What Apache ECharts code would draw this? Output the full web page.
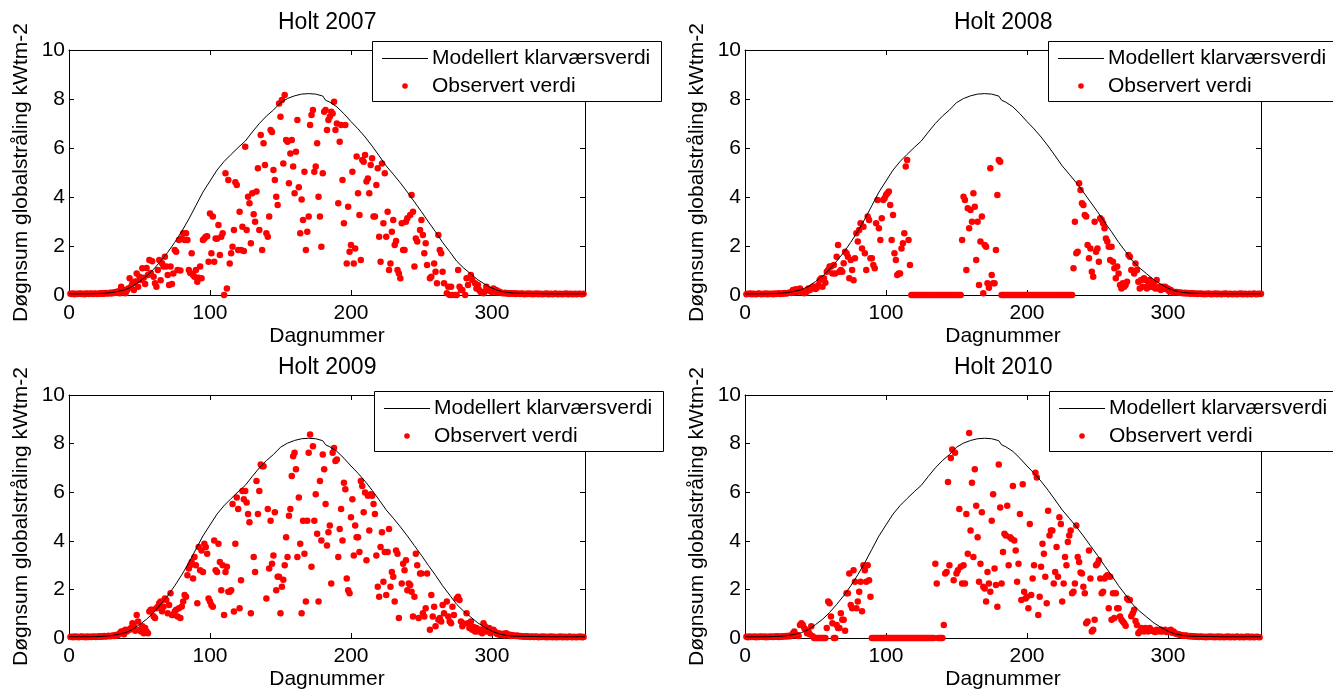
<!DOCTYPE html>
<html><head><meta charset="utf-8">
<script src="https://cdn.jsdelivr.net/npm/echarts@6/dist/echarts.min.js"></script>
<style>html,body{margin:0;padding:0;background:#fff}#c{width:1333px;height:691px}</style>
</head><body><div id="c"></div>
<script>
// ---------------- DATA ----------------
const titles = ['Holt 2007', 'Holt 2008', 'Holt 2009', 'Holt 2010'];
const legendLabels = ['Modellert klarværsverdi', 'Observert verdi'];
const xName = 'Dagnummer';
const yName = 'Døgnsum globalstråling kWtm-2';
const xTicks = [0, 100, 200, 300];
const yTicks = [0, 2, 4, 6, 8, 10];

// clear-sky model curve [day, value]
const modelCurve = [[0,0.05],[5,0.05],[10,0.05],[15,0.05],[20,0.06],[25,0.07],[30,0.1],[35,0.15],[40,0.22],[45,0.35],[50,0.55],[55,0.77],[60,1.05],[65,1.38],[70,1.74],[75,2.15],[80,2.6],[85,3.1],[90,3.65],[95,4.2],[100,4.65],[105,5.1],[110,5.45],[115,5.74],[120,6.02],[121,5.96],[125,6.28],[130,6.65],[135,7.0],[140,7.3],[141,7.26],[145,7.55],[150,7.85],[155,8.02],[160,8.13],[165,8.2],[170,8.22],[175,8.2],[180,8.12],[182,7.95],[185,7.87],[190,7.68],[195,7.4],[200,7.08],[205,6.78],[210,6.45],[215,6.08],[220,5.68],[225,5.27],[230,4.93],[235,4.58],[240,4.2],[245,3.8],[250,3.4],[255,2.98],[260,2.58],[265,2.15],[270,1.77],[275,1.38],[280,1.1],[285,0.86],[290,0.62],[295,0.44],[300,0.28],[305,0.17],[310,0.11],[315,0.08],[320,0.07],[330,0.06],[340,0.05],[350,0.05],[366,0.05]];

// ---- 2007 ----
const winterStart2007 = 1;
const winter2007 = [0.05,0.04,0.06,0.03,0.05,0.04,0.05,0.06,0.04,0.05,0.03,0.06,0.05,0.04,0.06,0.05,0.04,0.06,0.05,0.04,0.06,0.05,0.07,0.05,0.06,0.08,0.06,0.07,0.09,0.06,0.1,0.08,0.12,0.09,0.15,0.07];
const obs2007 = [[37,0.34],[38,0.12],[39,0.2],[40,0.07],[41,0.18],[42,0.27],[43,0.68],[44,0.34],[45,0.48],[46,0.2],[47,0.55],[48,0.88],[49,0.34],[50,0.75],[51,0.61],[52,1.09],[53,0.7],[54,0.45],[55,1.1],[56,0.82],[57,1.43],[58,0.9],[59,1.38],[60,0.75],[61,0.48],[62,0.34],[63,1.02],[64,1.43],[65,0.6],[66,1.3],[67,1.16],[68,1.56],[69,1.16],[70,0.82],[71,0.41],[72,1.16],[73,0.45],[74,0.88],[75,1.84],[76,1.77],[77,1.02],[78,2.24],[79,1.0],[80,2.31],[81,2.52],[82,2.24],[83,2.52],[84,2.24],[85,1.02],[86,0.9],[87,1.7],[88,0.82],[89,0.75],[90,1.02],[91,0.54],[92,0.7],[93,1.16],[94,0.68],[95,2.24],[96,2.31],[97,2.38],[98,2.4],[99,1.36],[100,3.33],[101,1.7],[102,3.2],[103,1.36],[104,2.31],[105,2.3],[106,2.86],[107,1.63],[108,2.38],[109,2.52],[110,0],[111,4.97],[112,0.27],[113,4.69],[114,1.29],[115,1.7],[116,1.97],[117,2.65],[118,4.6],[119,4.49],[120,1.84],[121,3.4],[122,1.84],[123,2.79],[124,1.8],[125,6.05],[126,2.65],[127,4.01],[128,3.74],[129,2.11],[130,4.15],[131,3.3],[132,2.99],[133,4.22],[134,5.17],[135,2.65],[136,6.53],[137,1.84],[138,6.19],[139,5.31],[140,2.52],[141,2.38],[142,3.2],[143,6.73],[144,6.65],[145,5.1],[146,4.69],[147,4.01],[148,3.67],[149,7.82],[150,7.28],[151,7.96],[152,5.37],[153,8.16],[154,6.33],[155,6.26],[156,4.56],[157,5.78],[158,6.33],[159,5.24],[160,4.15],[161,5.85],[162,7.14],[163,4.4],[164,2.52],[165,3.9],[166,3.06],[167,5.03],[168,1.84],[169,2.58],[170,3.2],[171,6.94],[172,7.35],[173,7.55],[174,5.03],[175,5.24],[176,6.19],[177,4.01],[178,3.2],[179,1.97],[180,4.97],[181,7.48],[182,7.55],[183,6.73],[184,7.14],[185,7.28],[186,7.48],[187,7.41],[188,7.89],[189,6.73],[190,7.0],[191,3.74],[192,6.26],[193,6.94],[194,4.69],[195,2.93],[196,6.94],[197,1.29],[198,3.6],[199,1.77],[200,2.04],[201,5.03],[202,1.29],[203,1.9],[204,5.65],[205,4.15],[206,3.27],[207,1.43],[208,5.51],[209,5.44],[210,5.71],[211,4.63],[212,4.76],[213,4.15],[214,5.31],[215,5.58],[216,3.2],[217,3.2],[218,4.49],[219,5.17],[220,2.38],[221,1.36],[222,5.37],[223,2.93],[224,4.97],[225,2.38],[226,3.4],[227,1.02],[228,1.29],[229,2.58],[230,3.06],[231,2.04],[232,2.2],[233,1.02],[234,0.88],[235,0.68],[236,2.93],[237,1.84],[238,1.84],[239,2.99],[240,3.13],[242,3.27],[243,4.08],[244,3.4],[245,1.16],[246,2.31],[247,2.18],[249,2.65],[250,3.06],[251,2.45],[252,1.7],[253,2.11],[254,1.22],[256,0.68],[257,0.75],[259,1.29],[260,0.95],[261,0.48],[262,2.45],[263,1.84],[264,1.7],[265,0.95],[266,0.48],[268,0.07],[269,0.34],[270,0],[271,0.34],[272,0],[274,0],[275,0],[276,1.02],[277,0.34],[278,0.2],[279,0.2],[281,0],[282,0.68],[283,0.41],[285,0.82],[286,0.61],[288,0.48],[289,0.27],[290,0.41],[291,0.2],[292,0.12],[294,0.07],[295,0.14],[296,0.34],[297,0.2],[298,0.2],[299,0.15],[300,0.12],[301,0.27],[302,0.14],[303,0.2],[304,0.1],[305,0.14]];
const autumnStart2007 = 306;
const autumn2007 = [0.10,0.08,0.07,0.09,0.06,0.08,0.05,0.07,0.06,0.05,0.07,0.04,0.06,0.05,0.04,0.06,0.05,0.03,0.05,0.04,0.06,0.04,0.05,0.03,0.05,0.04,0.06,0.03,0.05,0.04,0.03,0.05,0.04,0.06,0.03,0.04,0.05,0.03,0.04,0.06,0.04,0.03,0.05,0.04,0.03,0.05,0.04,0.06,0.03,0.04,0.05,0.03,0.04,0.05,0.03,0.04,0.05,0.04,0.03,0.05];

// ---- 2008 ----
const winterStart2008 = 1;
const winter2008 = [0.03,0.05,0.04,0.06,0.03,0.05,0.04,0.03,0.05,0.06,0.04,0.03,0.05,0.04,0.06,0.03,0.05,0.04,0.05,0.03,0.06,0.04,0.05,0.07,0.04,0.06,0.05,0.08,0.06,0.07,0.09,0.1,0.08];
const obs2008 = [[34,0.2],[35,0.1],[36,0.23],[37,0.12],[38,0.15],[39,0.27],[40,0.14],[41,0.1],[42,0.07],[43,0.09],[44,0.15],[45,0.27],[46,0.2],[47,0.27],[48,0.34],[49,0.34],[50,0.25],[51,0.3],[52,0.41],[53,0.61],[54,0.68],[55,0.34],[56,0.68],[57,0.5],[58,0.95],[59,1.02],[60,1.16],[61,1.16],[62,0.88],[63,1.22],[64,0.88],[65,1.56],[66,2.04],[67,0.95],[68,1.02],[69,0.95],[70,1.3],[71,1.77],[72,1.7],[73,1.56],[74,0.68],[75,1.43],[76,1.02],[77,0.6],[78,1.5],[79,2.52],[80,2.18],[81,2.65],[82,2.93],[83,1.9],[84,2.79],[85,1.7],[86,1.02],[87,3.2],[88,3.06],[89,1.5],[90,1.5],[91,1.22],[92,1.09],[93,2.93],[94,3.88],[95,2.72],[96,2.24],[97,3.13],[98,3.88],[99,3.95],[100,4.08],[101,4.15],[102,4.22],[103,3.67],[104,2.24],[105,3.27],[106,1.7],[107,1.43],[108,0.82],[109,0.88],[110,0.88],[111,1.9],[112,2.11],[113,2.52],[114,5.24],[115,5.51],[116,2.24],[117,1.22],
[118,0],[119,0],[120,0],[121,0],[122,0],[123,0],[124,0],[125,0],[126,0],[127,0],[128,0],[129,0],[130,0],[131,0],[132,0],[133,0],[134,0],[135,0],[136,0],[137,0],[138,0],[139,0],[140,0],[141,0],[142,0],[143,0],[144,0],[145,0],[146,0],[147,0],[148,0],[149,0],[150,0],[151,0],[152,0],[153,0],
[154,2.24],[155,4.01],[156,3.88],[157,1.02],[158,3.54],[159,2.72],[160,3.47],[161,2.99],[162,4.15],[163,3.6],[164,1.43],[165,2.99],[166,0.41],[167,2.18],[168,3.2],[169,0.07],[170,2.04],[171,1.97],[172,0.48],[173,0.3],[174,5.17],[175,0.82],[176,0.48],[177,0.48],[178,1.84],[179,4.08],[180,5.51],[181,5.44],
[182,0],[183,0],[184,0],[185,0],[186,0],[187,0],[188,0],[189,0],[190,0],[191,0],[192,0],[193,0],[194,0],[195,0],[196,0],[197,0],[198,0],[199,0],[200,0],[201,0],[202,0],[203,0],[204,0],[205,0],[206,0],[207,0],[208,0],[209,0],[210,0],[211,0],[212,0],[213,0],[214,0],[215,0],[216,0],[217,0],[218,0],[219,0],[220,0],[221,0],[222,0],[223,0],[224,0],[225,0],[226,0],[227,0],[228,0],[229,0],[230,0],[231,0],[232,0],
[233,1.09],[234,2.99],[235,1.7],[236,1.77],[237,4.56],[238,4.29],[239,3.74],[240,3.67],[241,3.27],[242,3.2],[243,2.04],[244,1.5],[245,1.9],[246,0.95],[247,0.75],[248,2.99],[249,1.77],[250,1.9],[251,1.36],[252,3.13],[253,3.06],[254,2.93],[255,2.72],[256,2.31],[257,2.18],[258,1.97],[259,1.43],[260,1.97],[261,1.36],[262,1.09],[263,0.68],[264,1.16],[265,0.88],[266,0.41],[267,0.27],[268,0.48],[269,0.34],[270,0.41],[271,0.54],[272,1.63],[273,1.56],[274,1.02],[276,0.88],[277,1.29],[278,1.02],[279,0.54],[280,0.27],[281,0.61],[282,0.34],[283,0.68],[284,0.61],[285,0.27],[286,0.41],[287,0.61],[288,0.34],[289,0.34],[290,0.48],[291,0.27],[292,0.61],[293,0.27],[294,0.34],[295,0.2],[296,0.34],[297,0.27],[298,0.34],[299,0.23],[300,0.27],[301,0.14],[302,0.2],[303,0.14],[304,0.1],[305,0.12]];
const autumnStart2008 = 306;
const autumn2008 = [0.12,0.1,0.09,0.1,0.08,0.07,0.09,0.06,0.08,0.07,0.05,0.07,0.06,0.05,0.06,0.04,0.05,0.06,0.04,0.05,0.03,0.05,0.04,0.06,0.04,0.03,0.05,0.04,0.06,0.03,0.05,0.04,0.03,0.05,0.04,0.06,0.04,0.03,0.05,0.04,0.03,0.05,0.04,0.03,0.05,0.04,0.06,0.03,0.04,0.05,0.03,0.04,0.05,0.03,0.04,0.06,0.04,0.03,0.05,0.04,0.05];

// ---- 2009 ----
const winterStart2009 = 1;
const winter2009 = [0.04,0.05,0.03,0.06,0.04,0.05,0.03,0.05,0.06,0.04,0.05,0.03,0.06,0.04,0.05,0.04,0.06,0.05,0.04,0.06,0.05,0.07,0.05,0.06,0.08,0.06,0.07,0.09,0.07,0.08,0.1,0.08,0.12,0.1,0.14];
const obs2009 = [[36,0.2],[37,0.27],[38,0.27],[39,0.15],[40,0.34],[41,0.27],[42,0.34],[43,0.34],[44,0.41],[45,0.61],[46,0.48],[47,0.3],[48,0.95],[49,0.68],[50,0.34],[51,0.27],[52,0.48],[53,0.2],[54,0.41],[55,0.27],[56,0.2],[57,1.09],[58,1.16],[59,1.16],[60,0.9],[61,0.82],[62,1.22],[63,1.29],[64,1.43],[65,1.5],[66,1.1],[67,1.29],[68,1.63],[69,1.56],[70,1.02],[71,1.36],[72,1.84],[73,0.95],[74,0.95],[75,1.09],[76,1.16],[77,0.88],[78,1.22],[79,0.82],[80,1.3],[81,1.5],[82,1.77],[83,1.7],[84,2.58],[85,2.86],[86,2.99],[87,3.13],[88,2.45],[89,3.33],[90,2.99],[91,1.43],[92,3.74],[93,2.79],[94,3.6],[95,2.72],[96,3.88],[97,3.74],[98,3.47],[99,1.63],[100,1.5],[101,1.36],[102,1.29],[103,4.01],[104,2.79],[105,2.72],[106,3.88],[107,3.13],[108,1.97],[109,2.99],[110,0.95],[111,2.72],[112,2.93],[113,1.9],[114,1.9],[115,1.97],[116,5.51],[117,1.09],[118,3.88],[119,5.78],[120,5.31],[121,1.22],[122,2.38],[123,6.05],[124,5.71],[125,6.05],[126,5.58],[127,5.1],[128,4.76],[129,1.02],[131,3.33],[132,2.72],[133,6.46],[134,5.1],[135,6.05],[136,7.14],[137,7.07],[138,7.07],[140,1.63],[141,5.31],[142,2.86],[143,4.83],[144,3.06],[145,3.4],[146,5.17],[147,1.97],[148,2.52],[149,2.52],[150,1.02],[151,2.11],[152,2.4],[153,2.99],[154,4.15],[155,3.33],[156,5.03],[157,5.31],[158,6.67],[159,7.48],[160,7.62],[161,6.94],[162,3.33],[163,5.78],[164,3.88],[165,1.02],[166,4.83],[167,3.47],[168,1.5],[169,4.83],[170,7.62],[171,8.37],[172,2.93],[173,7.89],[174,4.83],[175,5.92],[176,4.29],[177,1.5],[178,6.46],[179,4.01],[180,7.55],[181,6.94],[182,5.51],[183,3.81],[184,4.35],[185,4.63],[186,2.24],[187,7.62],[188,7.82],[189,7.28],[190,7.35],[191,3.33],[192,4.49],[193,5.31],[194,4.01],[195,6.39],[196,6.12],[197,2.45],[198,1.97],[199,1.84],[200,4.97],[201,5.71],[202,3.4],[203,4.63],[204,4.15],[205,4.15],[206,3.54],[207,6.46],[208,6.26],[209,5.17],[210,5.99],[211,3.2],[212,5.85],[213,4.42],[214,5.92],[215,5.85],[216,5.51],[217,5.1],[218,3.4],[219,2.11],[220,1.7],[221,3.74],[222,4.35],[223,2.31],[224,3.54],[225,1.77],[226,3.54],[227,4.49],[228,2.11],[229,2.72],[230,2.52],[231,1.5],[232,3.6],[233,3.47],[234,0.82],[236,2.24],[237,3.06],[238,2.79],[239,3.2],[240,1.97],[241,2.24],[242,2.18],[243,1.9],[244,0.88],[245,1.7],[246,3.47],[247,2.99],[248,0.82],[249,2.65],[250,2.65],[251,1.02],[252,0.88],[253,1.22],[254,2.65],[256,0.34],[257,1.77],[258,0.88],[259,1.29],[260,0.48],[262,0.75],[263,0.82],[264,0.68],[265,1.36],[266,1.02],[268,1.5],[269,0.88],[270,0.68],[271,0.61],[272,1.29],[273,0.95],[275,1.63],[276,1.7],[277,1.56],[278,0.68],[279,0.48],[280,0.6],[282,1.02],[283,0.61],[284,0.41],[285,0.68],[286,0.34],[287,0.45],[288,0.27],[289,0.41],[290,0.27],[291,0.34],[292,0.34],[293,0.2],[294,0.61],[295,0.48],[296,0.27],[297,0.34],[298,0.41],[299,0.2],[300,0.3],[301,0.34],[302,0.27],[303,0.2],[304,0.15],[305,0.2],[306,0.12],[307,0.15],[308,0.18],[309,0.1],[310,0.2],[311,0.12],[312,0.14],[313,0.08],[314,0.12],[315,0.1]];
const autumnStart2009 = 316;
const autumn2009 = [0.09,0.08,0.1,0.07,0.08,0.06,0.07,0.05,0.06,0.07,0.05,0.04,0.06,0.05,0.04,0.06,0.05,0.03,0.05,0.04,0.06,0.04,0.05,0.03,0.05,0.04,0.06,0.03,0.05,0.04,0.03,0.05,0.04,0.06,0.03,0.04,0.05,0.03,0.04,0.06,0.04,0.03,0.05,0.04,0.03,0.05,0.04,0.06,0.03,0.04];

// ---- 2010 ----
const winterStart2010 = 1;
const winter2010 = [0.05,0.03,0.06,0.04,0.05,0.04,0.06,0.03,0.05,0.04,0.06,0.05,0.04,0.06,0.03,0.05,0.04,0.06,0.05,0.04,0.06,0.05,0.07,0.04,0.06,0.05,0.07,0.06,0.08,0.06,0.09,0.07,0.1];
const obs2010 = [[34,0.2],[35,0.27],[36,0.1],[37,0.12],[38,0.08],[39,0.54],[40,0.61],[41,0.54],[42,0.41],[43,0.34],[44,0.2],[45,0.27],[46,0.15],[47,0.48],[48,0.07],[49,0],[50,0],[51,0],[52,0],[53,0],[54,0],[55,0],[56,0],[57,0],[58,0.41],[59,1.5],[60,1.43],[61,0.88],[62,0.61],[63,0],[64,0],[65,0.54],[66,0.41],[67,0.41],[68,1.02],[69,0.75],[70,0.75],[71,0.3],[72,1.84],[73,1.84],[74,2.65],[75,1.36],[76,1.22],[77,2.79],[78,2.31],[79,1.22],[80,1.5],[81,1.9],[82,2.31],[83,1.1],[84,2.99],[85,2.79],[86,2.31],[87,2.99],[88,2.38],[89,1.7],
[90,0],[91,0],[92,0],[93,0],[94,0],[95,0],[96,0],[97,0],[98,0],[99,0],[100,0],[101,0],[102,0],[103,0],[104,0],[105,0],[106,0],[107,0],[108,0],[109,0],[110,0],[111,0],[112,0],[113,0],[114,0],[115,0],[116,0],[117,0],[118,0],[119,0],[120,0],[121,0],[122,0],[123,0],[124,0],[125,0],[126,0],[127,0],[128,0],[129,0],[130,0],[131,0],[132,0],[133,0],[134,0],
[135,3.06],[136,2.24],[137,0],[138,0],[139,0],[140,0],
[141,0.54],[142,2.65],[143,2.72],[144,6.42],[145,2.99],[146,7.41],[147,7.76],[148,2.38],[149,7.62],[150,2.65],[151,2.79],[152,5.31],[153,2.93],[154,2.24],[155,2.99],[156,2.24],[157,5.1],[158,3.47],[159,8.44],[160,4.42],[161,6.39],[162,3.33],[163,6.94],[164,5.44],[165,4.15],[166,2.31],[167,3.06],[168,5.17],[169,2.11],[170,2.04],[171,1.5],[172,2.72],[173,2.24],[174,1.9],[175,4.83],[176,5.92],[177,2.86],[178,2.18],[179,1.29],[180,7.14],[181,5.37],[182,2.24],[183,3.54],[184,4.29],[185,4.22],[186,5.44],[187,2.99],[188,4.15],[189,4.08],[190,6.26],[191,4.01],[192,3.6],[193,2.31],[194,3.06],[195,5.1],[196,1.56],[197,6.33],[198,1.9],[199,1.63],[200,1.7],[201,1.22],[202,4.69],[203,1.77],[204,2.45],[205,2.99],[206,6.8],[207,6.6],[208,0.95],[209,1.7],[210,2.93],[211,3.88],[212,3.47],[213,2.52],[214,1.43],[215,5.24],[216,4.22],[217,4.42],[218,4.42],[219,2.24],[220,2.72],[221,3.74],[222,2.52],[223,4.97],[224,4.69],[225,1.5],[226,2.24],[227,3.33],[228,2.99],[229,3.95],[230,4.22],[231,4.42],[232,1.84],[233,1.9],[234,2.24],[235,4.63],[236,3.33],[237,3.13],[238,2.7],[239,2.65],[240,2.11],[241,1.84],[242,0.61],[243,0.68],[244,3.6],[245,2.45],[246,0.27],[247,0.34],[248,0.75],[249,2.99],[250,3.06],[251,3.2],[252,2.45],[253,1.84],[254,1.9],[255,2.45],[256,2.52],[257,2.58],[258,1.22],[259,2.52],[260,0.75],[261,1.84],[262,0.82],[263,1.84],[264,1.22],[265,1.22],[266,0.88],[267,0.75],[268,0.68],[269,0.61],[270,0.5],[271,1.63],[272,1.56],[273,1.56],[274,0.9],[275,1.02],[276,1.16],[277,0.7],[278,0.54],[279,0.2],[280,0.27],[281,0.41],[282,0.34],[283,0.27],[284,0.41],[285,0.34],[286,0.27],[287,0.41],[288,0.34],[289,0.3],[290,0.27],[291,0.25],[292,0.34],[293,0.3],[294,0.27],[295,0.34],[296,0.27],[297,0.3],[298,0.34],[299,0.25],[300,0.27],[301,0.3],[302,0.34],[303,0.22],[304,0.27],[305,0.2]];
const autumnStart2010 = 306;
const autumn2010 = [0.18,0.15,0.14,0.12,0.1,0.1,0.09,0.1,0.08,0.07,0.08,0.06,0.07,0.05,0.06,0.05,0.04,0.06,0.05,0.04,0.05,0.03,0.05,0.04,0.06,0.04,0.05,0.03,0.05,0.04,0.06,0.03,0.05,0.04,0.03,0.05,0.04,0.06,0.03,0.04,0.05,0.03,0.04,0.06,0.04,0.03,0.05,0.04,0.03,0.05,0.04,0.06,0.03,0.04,0.05,0.03,0.04,0.05,0.04,0.03];

// ---------------- BUILD ----------------
function run(start, vals) { return vals.map((v, i) => [start + i, v]); }
const observed = [
  run(winterStart2007, winter2007).concat(obs2007, run(autumnStart2007, autumn2007)),
  run(winterStart2008, winter2008).concat(obs2008, run(autumnStart2008, autumn2008)),
  run(winterStart2009, winter2009).concat(obs2009, run(autumnStart2009, autumn2009)),
  run(winterStart2010, winter2010).concat(obs2010, run(autumnStart2010, autumn2010))
];

const FONT = '"Liberation Sans", Arial, Helvetica, sans-serif';
const FS = 21;
const TFS = 23;
const panels = [
  {left: 69, top: 50, titleTop: 11, legX: 372, legY: 41, legW: 289},
  {left: 745, top: 50, titleTop: 11, legX: 1048, legY: 41, legW: 300},
  {left: 69, top: 395, titleTop: 356, legX: 374, legY: 391, legW: 289},
  {left: 745, top: 395, titleTop: 356, legX: 1049, legY: 391, legW: 300}
];
const PW = 516, PH = 245;

const mctx = document.createElement('canvas').getContext('2d');
mctx.font = TFS + 'px ' + FONT;

const option = {
  backgroundColor: '#fff',
  animation: false,
  title: titles.map((t, i) => ({
    text: t,
    left: Math.round(panels[i].left + PW / 2 - mctx.measureText(t).width / 2),
    top: panels[i].titleTop,
    padding: 0,
    textStyle: {fontSize: TFS, fontWeight: 'normal', color: '#000', fontFamily: FONT}
  })),
  grid: panels.map(p => ({left: p.left, top: p.top, width: PW, height: PH})),
  xAxis: [],
  yAxis: [],
  series: [],
  graphic: []
};

const lineCol = {color: '#000', width: 1};
panels.forEach((p, i) => {
  const xBase = {
    type: 'value', gridIndex: i, min: 0, max: 366, interval: 100,
    axisLine: {show: true, onZero: false, lineStyle: lineCol},
    axisTick: {show: true, inside: true, length: 5, lineStyle: lineCol},
    splitLine: {show: false}
  };
  option.xAxis.push(Object.assign({}, xBase, {
    position: 'bottom', name: xName, nameLocation: 'middle', nameGap: 31,
    nameTextStyle: {fontSize: FS, color: '#000', fontFamily: FONT},
    axisLabel: {show: true, margin: 8, fontSize: FS, color: '#000', fontFamily: FONT,
      formatter: v => (xTicks.indexOf(v) >= 0 ? String(v) : '')}
  }));
  option.xAxis.push(Object.assign({}, xBase, {position: 'top', axisLabel: {show: false}}));
  const yBase = {
    type: 'value', gridIndex: i, min: 0, max: 10, interval: 2,
    axisLine: {show: true, onZero: false, lineStyle: lineCol},
    axisTick: {show: true, inside: true, length: 5, lineStyle: lineCol},
    splitLine: {show: false}
  };
  option.yAxis.push(Object.assign({}, yBase, {
    position: 'left', name: yName, nameLocation: 'middle', nameGap: 37, nameRotate: 90,
    nameTextStyle: {fontSize: FS, color: '#000', fontFamily: FONT},
    axisLabel: {show: true, margin: 4, fontSize: FS, color: '#000', fontFamily: FONT,
      formatter: v => (yTicks.indexOf(v) >= 0 ? String(v) : '')}
  }));
  option.yAxis.push(Object.assign({}, yBase, {position: 'right', axisLabel: {show: false}}));

  option.series.push({
    name: legendLabels[0], type: 'line', xAxisIndex: 2 * i, yAxisIndex: 2 * i,
    data: modelCurve, symbol: 'none', lineStyle: {color: '#000', width: 1}, silent: true
  });
  option.series.push({
    name: legendLabels[1], type: 'scatter', xAxisIndex: 2 * i, yAxisIndex: 2 * i,
    data: observed[i], symbol: 'circle', symbolSize: 6.5, clip: false,
    itemStyle: {color: '#ff0000', opacity: 1}, silent: true
  });

  const x = p.legX, y = p.legY;
  option.graphic.push(
    {type: 'rect', z: 100, shape: {x: x + 0.5, y: y + 0.5, width: p.legW, height: 60},
      style: {fill: '#fff', stroke: '#000', lineWidth: 1}},
    {type: 'line', z: 101, shape: {x1: x + 10, y1: y + 17.5, x2: x + 56, y2: y + 17.5},
      style: {stroke: '#000', lineWidth: 1}},
    {type: 'circle', z: 101, shape: {cx: x + 33, cy: y + 45, r: 2.8}, style: {fill: '#ff0000'}},
    {type: 'text', z: 101, x: x + 60, y: y + 17,
      style: {text: legendLabels[0], font: FS + 'px ' + FONT, fill: '#000',
        textVerticalAlign: 'middle', verticalAlign: 'middle'}},
    {type: 'text', z: 101, x: x + 60, y: y + 45,
      style: {text: legendLabels[1], font: FS + 'px ' + FONT, fill: '#000',
        textVerticalAlign: 'middle', verticalAlign: 'middle'}}
  );
});

const chart = echarts.init(document.getElementById('c'), null, {renderer: 'canvas'});
chart.setOption(option);
</script>
</body></html>
